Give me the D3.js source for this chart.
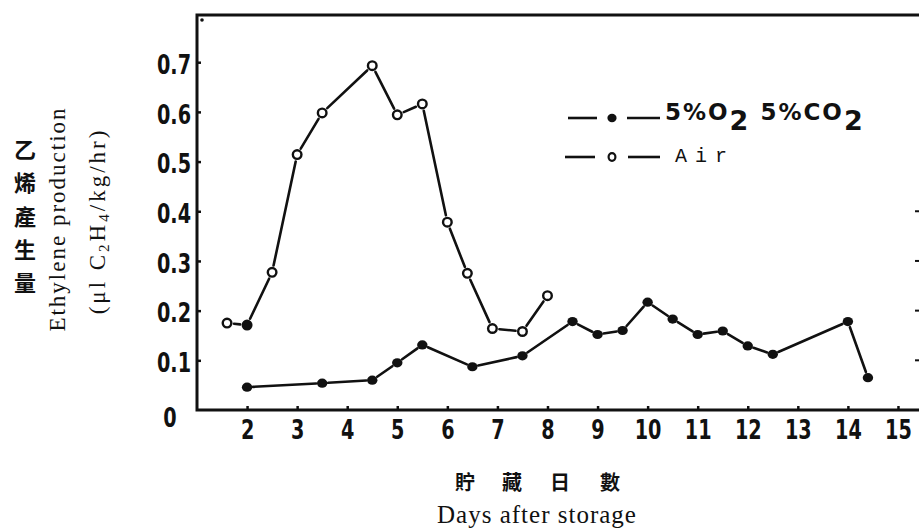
<!DOCTYPE html>
<html>
<head>
<meta charset="utf-8">
<script src="https://cdn.jsdelivr.net/npm/d3@7"></script>
<style>
  body { margin: 0; background: #fff; }
  svg { display: block; }
  .tick text { font-family: "DejaVu Sans", sans-serif; font-weight: bold; font-size: 26px; fill: #111; }
  .tick line { stroke: #111; stroke-width: 2.5; }
  .domain { display: none; }
</style>
</head>
<body>
<svg width="919" height="530"></svg>
<script>
// days after storage / ethylene production (ul C2H4/kg/hr)
const airDays = [1.6, 2, 2.5, 3, 3.5, 4.5, 5, 5.5, 6, 6.4, 6.9, 7.5, 8];
const airValues = [0.175, 0.171, 0.277, 0.514, 0.598, 0.693, 0.594, 0.616, 0.378, 0.275, 0.164, 0.158, 0.23];

const caDays = [2, 3.5, 4.5, 5, 5.5, 6.5, 7.5, 8.5, 9, 9.5, 10, 10.5, 11, 11.5, 12, 12.5, 14, 14.4];
const caValues = [0.046, 0.054, 0.06, 0.095, 0.131, 0.087, 0.109, 0.178, 0.152, 0.16, 0.217, 0.183, 0.152, 0.159, 0.129, 0.112, 0.178, 0.065];

const xTicks = [2, 3, 4, 5, 6, 7, 8, 9, 10, 11, 12, 13, 14, 15];
const yTicks = [0, 0.1, 0.2, 0.3, 0.4, 0.5, 0.6, 0.7];

let svg = d3.select("svg");
const plotL = 197, plotR = 919, plotT = 15, plotB = 410;
const ink = "#111";
const squeeze = 0.74; // condensed look of the tick digits

let x = d3.scaleLinear().domain([1, 15.42]).range([plotL, plotR]);
let y = d3.scaleLinear().domain([0, 0.795]).range([plotB, plotT]);

// axes
let xAxis = svg.append("g")
    .attr("transform", "translate(0," + plotB + ")")
    .call(d3.axisBottom(x).tickValues(xTicks).tickSize(-4).tickFormat(d3.format("d")));
xAxis.selectAll("text").attr("y", 0).attr("dy", "0.36em")
    .attr("transform", "translate(0,20) scale(" + squeeze + ",1)");

let yAxis = svg.append("g")
    .attr("transform", "translate(" + plotL + ",0)")
    .call(d3.axisLeft(y).tickValues(yTicks).tickSize(-4).tickFormat(d => d === 0 ? "0" : d3.format(".1f")(d)));
yAxis.selectAll("text").attr("text-anchor", "middle").attr("x", 0).attr("dy", "0.36em")
    .attr("transform", d => "translate(" + (d === 0 ? -27 : -23) + "," + (d === 0 ? 7 : 2) + ") scale(" + squeeze + ",1)");
yAxis.selectAll(".tick").filter(d => d === 0).select("line").remove();

// frame: left, bottom, top (no right side)
svg.append("path")
    .attr("d", "M" + plotR + "," + plotT + "H" + plotL + "V" + plotB + "H" + plotR)
    .attr("fill", "none").attr("stroke", ink).attr("stroke-width", 3);
svg.append("circle").attr("cx", plotL + 5).attr("cy", plotT + 5).attr("r", 1.8).attr("fill", ink);

// stubs of the right-side ticks cut at the edge
svg.selectAll(".rtick").data([0.1, 0.2, 0.3, 0.4]).enter().append("line")
    .attr("x1", plotR - 4).attr("x2", plotR)
    .attr("y1", d => y(d)).attr("y2", d => y(d))
    .attr("stroke", ink).attr("stroke-width", 2);

// connecting segments, shortened at each end like the hand-drawn original
function drawSeries(days, vals, gap) {
    let pts = days.map((d, i) => [x(d), y(vals[i])]);
    let segs = d3.pairs(pts);
    let k = s => gap / Math.hypot(s[1][0] - s[0][0], s[1][1] - s[0][1]);
    svg.append("g").selectAll("line").data(segs).enter().append("line")
        .attr("x1", s => s[0][0] + (s[1][0] - s[0][0]) * k(s))
        .attr("y1", s => s[0][1] + (s[1][1] - s[0][1]) * k(s))
        .attr("x2", s => s[1][0] - (s[1][0] - s[0][0]) * k(s))
        .attr("y2", s => s[1][1] - (s[1][1] - s[0][1]) * k(s))
        .attr("stroke", ink).attr("stroke-width", 2.6).attr("stroke-linecap", "round");
    return pts;
}

let airPts = drawSeries(airDays, airValues, 7);
let caPts = drawSeries(caDays, caValues, 6);

// the day-2 air reading is printed as a solid dot in the original
svg.append("g").selectAll("circle").data(airPts).enter().append("circle")
    .attr("cx", p => p[0]).attr("cy", p => p[1]).attr("r", 4.3)
    .attr("fill", (p, i) => airDays[i] === 2 ? ink : "#fff").attr("stroke", ink).attr("stroke-width", 2.4);

svg.append("g").selectAll("ellipse").data(caPts).enter().append("ellipse")
    .attr("cx", p => p[0]).attr("cy", p => p[1]).attr("rx", 5.2).attr("ry", 4.6)
    .attr("fill", ink);

// legend
let lg = svg.append("g");
[[568, 597], [627, 660], [565, 595], [628, 660]].forEach((d, i) => {
    let ly = i < 2 ? 118 : 157;
    lg.append("line").attr("x1", d[0]).attr("x2", d[1]).attr("y1", ly).attr("y2", ly)
        .attr("stroke", ink).attr("stroke-width", 2.6);
});
lg.append("ellipse").attr("cx", 612).attr("cy", 118).attr("rx", 4.6).attr("ry", 4.2).attr("fill", ink);
lg.append("ellipse").attr("cx", 612).attr("cy", 157).attr("rx", 3.4).attr("ry", 3.8).attr("fill", "#fff")
    .attr("stroke", ink).attr("stroke-width", 2.2);

let t1 = lg.append("text").attr("x", 665).attr("y", 120)
    .style("font-family", "'DejaVu Sans', sans-serif").style("font-weight", "bold")
    .style("font-size", "23px").style("letter-spacing", "2px").attr("fill", ink);
t1.append("tspan").text("5%O");
t1.append("tspan").attr("dy", 10).style("font-size", "27px").text("2");
t1.append("tspan").attr("dy", -10).text(" 5%CO");
t1.append("tspan").attr("dy", 10).style("font-size", "27px").text("2");

lg.append("text").attr("x", 675).attr("y", 162).text("Air")
    .style("font-family", "'Liberation Mono', monospace").style("font-size", "20px")
    .style("letter-spacing", "8px").attr("fill", ink);

// y axis titles
let yt = svg.append("g").attr("fill", ink);
"乙烯產生量".split("").forEach((c, i) => {
    yt.append("text").attr("x", 25).attr("y", 150 + i * 33.3).attr("dy", "0.36em")
        .attr("text-anchor", "middle").text(c)
        .style("font-family", "'Noto Sans CJK TC', sans-serif").style("font-weight", "bold").style("font-size", "22px");
});
yt.append("text").attr("transform", "translate(65,219) rotate(-90)").attr("text-anchor", "middle")
    .style("font-family", "'Liberation Serif', serif").style("font-size", "23px").style("letter-spacing", "2px")
    .text("Ethylene production");
let u = yt.append("text").attr("transform", "translate(105,221) rotate(-90)").attr("text-anchor", "middle")
    .style("font-family", "'Liberation Serif', serif").style("font-size", "23px").style("letter-spacing", "3px");
u.append("tspan").text("(μl C");
u.append("tspan").attr("dy", 4).style("font-size", "15px").text("2");
u.append("tspan").attr("dy", -4).text("H");
u.append("tspan").attr("dy", 4).style("font-size", "15px").text("4");
u.append("tspan").attr("dy", -4).text("/kg/hr)");

// x axis titles
let xt = svg.append("g").attr("fill", ink);
"貯藏日數".split("").forEach((c, i) => {
    xt.append("text").attr("x", [465, 512, 560, 610][i]).attr("y", 483).attr("dy", "0.36em")
        .attr("text-anchor", "middle").text(c)
        .style("font-family", "'Noto Sans CJK TC', sans-serif").style("font-weight", "bold").style("font-size", "20px");
});
xt.append("text").attr("x", 537).attr("y", 523).attr("text-anchor", "middle")
    .style("font-family", "'Liberation Serif', serif").style("font-size", "25px").style("letter-spacing", "1px")
    .text("Days after storage");
</script>
</body>
</html>
